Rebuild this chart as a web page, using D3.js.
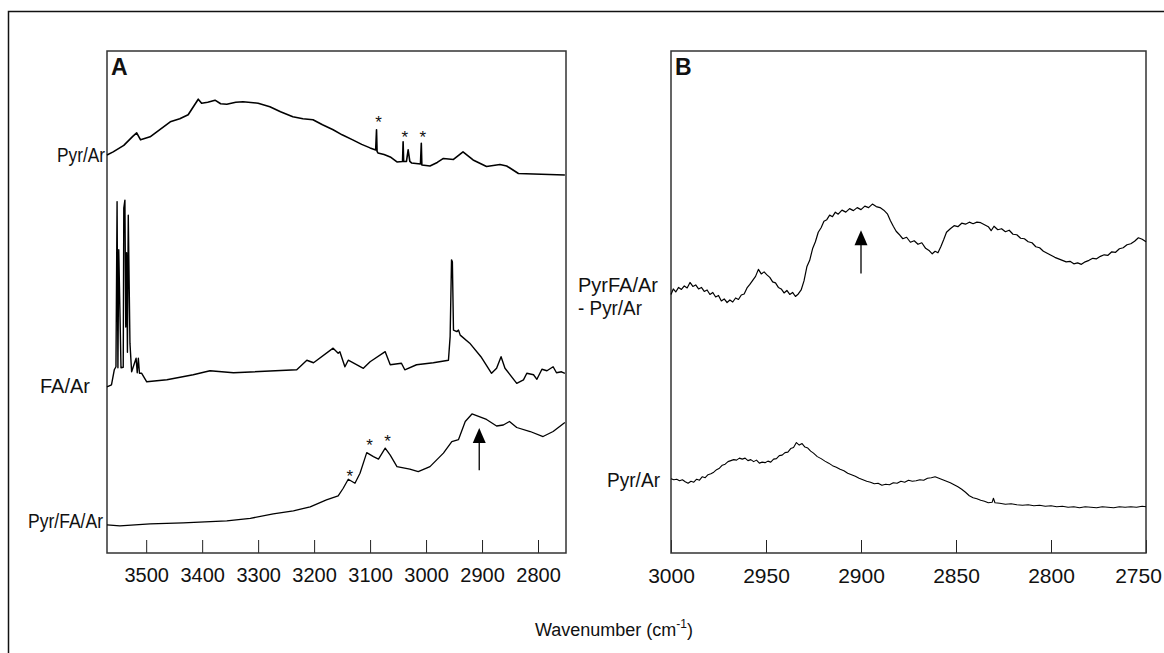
<!DOCTYPE html>
<html>
<head>
<meta charset="utf-8">
<script src="https://cdn.jsdelivr.net/npm/d3@7"></script>
<style>
  body { margin: 0; background: #fff; }
  text { font-family: "Liberation Sans", Arial, sans-serif; fill: #111; }
</style>
</head>
<body>
<div id="chart"></div>
<script>
// ---- data (wavenumber cm-1, absorbance in arbitrary offset units) ----
const pyrArA = [[3570,79.3],[3559,79.9],[3540,81.2],[3524,83.0],[3517,83.7],[3510,82.3],[3493,82.9],[3475,84.4],[3457,85.9],[3440,86.5],[3425,87.3],[3407,90.4],[3401,89.6],[3390,89.8],[3377,90.2],[3367,89.5],[3356,89.4],[3340,89.8],[3327,89.9],[3300,89.6],[3279,88.9],[3260,87.9],[3238,86.9],[3220,86.5],[3202,86.3],[3185,85.3],[3166,84.3],[3150,83.3],[3131,82.3],[3115,81.4],[3100,80.7],[3090,80.3],[3088.5,84.3],[3087.5,80.0],[3086,79.7],[3075,79.4],[3064,78.9],[3052,77.9],[3042,78.0],[3041,81.9],[3040,78.0],[3035,78.0],[3032,80.3],[3029,78.0],[3026,77.7],[3010,77.5],[3008.5,81.6],[3007.5,77.3],[2993,77.1],[2980,77.8],[2969,78.6],[2951,78.4],[2934,79.9],[2916,78.3],[2892,77.0],[2868,77.4],[2856,77.1],[2835,75.6],[2808,75.5],[2780,75.4],[2752,75.3]];

const faArA = [[3570,33.1],[3562,33.5],[3557,36.5],[3554,37.1],[3552,70.0],[3550.5,36.9],[3549,60.4],[3545,36.9],[3541,37.0],[3540,68.7],[3538,70.3],[3536.5,45.0],[3535,59.8],[3533.5,40.0],[3532,67.3],[3529,41.8],[3526,36.1],[3518,38.8],[3516,35.9],[3514,38.8],[3512,35.8],[3508,35.8],[3499,34.1],[3463,34.5],[3416,35.5],[3386,36.3],[3344,35.9],[3231,36.5],[3213,38.4],[3201,37.9],[3166,40.8],[3157,39.8],[3154,40.1],[3145,37.1],[3139,38.4],[3112,36.8],[3100,38.1],[3073,40.1],[3064,37.5],[3044,37.8],[3038,36.5],[3017,37.5],[2987,37.9],[2960,38.4],[2957,43.1],[2954.5,58.4],[2953,58.0],[2951,44.4],[2945,44.1],[2942,44.4],[2939,43.4],[2922,41.8],[2902,39.1],[2883,35.8],[2874,36.8],[2866,39.1],[2859,36.8],[2838,33.8],[2826,34.5],[2820,35.8],[2808,35.5],[2802,34.6],[2793,36.6],[2784,36.3],[2773,37.1],[2767,35.9],[2758,36.1],[2752,35.8]];

const pyrFaArA = [[3570,5.6],[3547,5.4],[3493,5.8],[3434,6.0],[3356,6.4],[3314,6.9],[3273,7.8],[3237,8.4],[3207,9.2],[3178,10.6],[3157,11.4],[3148,12.9],[3139,14.7],[3127,13.9],[3118,15.9],[3106,20.0],[3094,19.2],[3085,18.7],[3073,20.9],[3064,19.5],[3052,17.2],[3029,16.7],[3014,16.2],[2993,17.2],[2969,19.9],[2954,22.2],[2942,22.6],[2930,26.2],[2918,27.7],[2892,26.6],[2874,25.3],[2862,25.5],[2851,26.2],[2838,25.0],[2814,24.2],[2791,23.2],[2773,24.2],[2752,26.0]];

const diffB = [[3000,51.5],[2998.8,52.6],[2997.5,52.0],[2996,52.9],[2994.5,52.5],[2993,53.2],[2991.5,52.8],[2990,53.9],[2988.5,53.1],[2987,53.4],[2985.5,52.6],[2984,52.9],[2982.5,52.1],[2981,52.4],[2979.5,51.5],[2978,51.9],[2976.5,51.0],[2975,51.3],[2973.5,50.2],[2972,50.6],[2970.5,49.9],[2969,50.4],[2967.5,50.0],[2966,50.8],[2964.5,50.5],[2963,51.4],[2961.5,51.6],[2960,52.8],[2958.5,53.5],[2957,54.3],[2955.5,55.1],[2954,56.5],[2952.5,55.6],[2951,56.0],[2949.5,55.4],[2948,54.9],[2946.5,54.0],[2945,53.8],[2943.5,52.9],[2942,52.6],[2940.5,51.8],[2939,52.3],[2937.5,51.5],[2936,51.9],[2934.5,51.1],[2933,51.6],[2931.5,52.4],[2930,54.2],[2928.5,57.0],[2927,58.3],[2925.5,60.6],[2924,62.0],[2922.5,63.9],[2921,64.8],[2919.5,66.1],[2918,66.4],[2916.5,67.3],[2915,67.0],[2913.5,67.9],[2912,67.5],[2910,68.3],[2908,67.9],[2906,68.6],[2904,68.2],[2902,68.8],[2900,68.4],[2898,69.1],[2896,68.8],[2894,69.5],[2892,69.0],[2890,68.8],[2888,68.3],[2886,67.5],[2884.5,66.2],[2883,65.1],[2881.5,64.1],[2880,63.5],[2878,62.6],[2876,62.9],[2874,61.9],[2872,62.2],[2870,61.5],[2868,61.8],[2866,60.7],[2864,60.2],[2862.5,59.6],[2861,60.1],[2859.5,59.8],[2858,61.0],[2856.5,62.4],[2855,63.9],[2853,64.6],[2851,65.2],[2849,65.0],[2847,65.7],[2845,65.5],[2843,65.9],[2841,65.6],[2839,65.9],[2837,65.8],[2835,65.4],[2833,65.0],[2831.5,64.2],[2830,65.1],[2828,64.4],[2826,64.6],[2824,64.0],[2822,64.3],[2820,63.5],[2818,63.4],[2816,62.7],[2814,62.6],[2812,62.0],[2810,61.8],[2808,61.0],[2806,60.8],[2804,60.1],[2802,59.7],[2800,59.3],[2798,58.9],[2796,58.6],[2794,58.3],[2792,58.0],[2790,58.1],[2788,57.6],[2786,57.8],[2784,57.5],[2782,58.0],[2780,58.3],[2778,58.7],[2776,58.6],[2774,59.1],[2772,59.4],[2770,59.3],[2768,60.0],[2766,59.9],[2764,60.6],[2762,60.8],[2760,61.4],[2758,61.6],[2756,62.1],[2754,62.8],[2752,62.5],[2750,62.0]];

const pyrArB = [[3000,14.8],[2998.5,14.6],[2997,14.7],[2995.5,14.4],[2994,14.6],[2992.5,14.2],[2991,13.9],[2989.5,14.3],[2988,14.1],[2986.5,14.7],[2985,14.5],[2983.5,15.2],[2982,15.0],[2980.5,15.6],[2979,15.8],[2977.5,16.1],[2976,16.6],[2974.5,16.9],[2973,17.5],[2971.5,17.7],[2970,18.2],[2968.5,18.4],[2967,18.6],[2965.5,18.5],[2964,18.9],[2962.5,18.7],[2961,18.9],[2959.5,18.4],[2958,18.6],[2956.5,18.2],[2955,18.5],[2953.5,17.9],[2952,18.1],[2950.5,18.0],[2949,18.3],[2947.5,18.1],[2946,18.7],[2944.5,18.8],[2943,19.4],[2941.5,19.5],[2940,20.0],[2938.5,20.1],[2937,20.8],[2935.5,21.0],[2934,22.0],[2932.5,21.5],[2931,21.8],[2929.5,21.1],[2928,20.9],[2926.5,20.3],[2925,19.9],[2923,19.2],[2921,18.8],[2919,18.3],[2917,17.9],[2915,17.4],[2913,17.1],[2911,16.7],[2909,16.4],[2907,15.9],[2905,15.6],[2903,15.3],[2901,14.9],[2899,14.6],[2897,14.3],[2895,14.1],[2893,13.8],[2891,13.9],[2889,13.5],[2887,13.7],[2885,13.6],[2883,14.0],[2881,13.9],[2879,14.3],[2877,14.1],[2875,14.5],[2873,14.3],[2871,14.4],[2869,14.6],[2867,14.5],[2865,14.9],[2863,15.0],[2861,15.2],[2859,14.9],[2857,14.6],[2855,14.3],[2853,14.0],[2851,13.6],[2849,13.2],[2847,12.7],[2845,12.1],[2843,11.4],[2841,11.0],[2839,10.8],[2837,10.5],[2835,10.3],[2833,10.0],[2831,10.1],[2830.3,10.9],[2829.5,10.0],[2827,9.9],[2824,9.7],[2821,9.8],[2818,9.6],[2815,9.5],[2812,9.6],[2809,9.4],[2806,9.5],[2803,9.3],[2800,9.4],[2797,9.2],[2794,9.3],[2791,9.1],[2788,9.2],[2785,9.0],[2782,9.2],[2779,9.1],[2776,9.0],[2773,9.2],[2770,9.1],[2767,9.0],[2764,9.2],[2761,9.1],[2758,9.2],[2755,9.1],[2752,9.3],[2750,9.2]];

const ticksA = [3500, 3400, 3300, 3200, 3100, 3000, 2900, 2800];
const ticksB = [3000, 2950, 2900, 2850, 2800, 2750];
const starsA = [[3085,86.6],[3038,83.6],[3006,83.6],[3136,16.2],[3101,22.4],[3069,23.2]];
const arrowA = [2905, 24.9, 16.5];   // wavenumber, tip, tail
const arrowB = [2900, 64.3, 55.7];

// ---- layout ----
const W = 1164, H = 653;
const yTop = 51, yBot = 553;

const svg = d3.select("#chart").append("svg")
  .attr("width", W).attr("height", H);

svg.append("rect").attr("x", 8.5).attr("y", 11.5).attr("width", 1170).attr("height", 660)
  .attr("fill", "none").attr("stroke", "#111").attr("stroke-width", 1.5);

const xA = d3.scaleLinear().domain([3570, 2750]).range([107, 566]);
const xB = d3.scaleLinear().domain([3000, 2750]).range([671, 1146]);
const y = d3.scaleLinear().domain([0, 100]).range([yBot, yTop]);

function panel(x, ticks, fs, letter) {
  const g = svg.append("g");
  const ax = g.append("g").attr("transform", "translate(0," + yBot + ")")
    .call(d3.axisBottom(x).tickValues(ticks).tickSize(-13).tickPadding(15).tickFormat(d3.format("d")));
  ax.select(".domain").remove();
  ax.selectAll("line").attr("stroke", "#222");
  ax.selectAll("text").attr("font-size", fs).attr("font-family", "Liberation Sans, Arial, sans-serif").attr("fill", "#111");
  const [r0, r1] = x.range();
  g.append("rect").attr("x", r0).attr("y", yTop).attr("width", r1 - r0).attr("height", yBot - yTop)
    .attr("fill", "none").attr("stroke", "#333").attr("stroke-width", 1.5);
  g.append("text").attr("x", r0 + 4).attr("y", yTop + 24).attr("font-size", 23)
    .attr("font-weight", "bold").text(letter);
  return { g, ax };
}

const pA = panel(xA, ticksA, 20, "A");
const pB = panel(xB, ticksB, 21, "B");
const gA = pA.g, gB = pB.g;
// last label of B sits on the page edge; nudge it in so it stays readable
pB.ax.selectAll(".tick text").filter(d => d === 2750).attr("dx", -8);

function trace(g, x, data, w) {
  g.append("path").datum(data)
    .attr("fill", "none").attr("stroke", "#000").attr("stroke-width", w)
    .attr("stroke-linejoin", "round")
    .attr("d", d3.line().x(d => x(d[0])).y(d => y(d[1])));
}
trace(gA, xA, pyrArA, 1.6);
trace(gA, xA, faArA, 1.4);
trace(gA, xA, pyrFaArA, 1.3);
trace(gB, xB, diffB, 1.2);
trace(gB, xB, pyrArB, 1.1);

gA.selectAll(".star").data(starsA).enter().append("text")
  .attr("class", "star")
  .attr("x", d => xA(d[0])).attr("y", d => y(d[1]) + 10)
  .attr("text-anchor", "middle").attr("font-size", 17).text("*");

function arrow(g, x, a) {
  const ax = x(a[0]), tip = y(a[1]), tail = y(a[2]);
  g.append("line").attr("x1", ax).attr("x2", ax).attr("y1", tip + 12).attr("y2", tail)
    .attr("stroke", "#000").attr("stroke-width", 1.3);
  g.append("path").attr("d", d3.line()([[ax, tip], [ax - 6.5, tip + 15], [ax + 6.5, tip + 15]]) + "Z")
    .attr("fill", "#000");
}
arrow(gA, xA, arrowA);
arrow(gB, xB, arrowB);

// trace labels
const labels = [
  { t: "Pyr/Ar", x: 57, y: 162, len: 48 },
  { t: "FA/Ar", x: 40, y: 393, len: 50 },
  { t: "Pyr/FA/Ar", x: 28, y: 528, len: 75 },
  { t: "PyrFA/Ar", x: 578, y: 292, len: 80 },
  { t: "- Pyr/Ar", x: 578, y: 315, len: 64 },
  { t: "Pyr/Ar", x: 607, y: 487, len: 53 }
];
svg.selectAll(".lab").data(labels).enter().append("text")
  .attr("class", "lab")
  .attr("x", d => d.x).attr("y", d => d.y)
  .attr("font-size", 20)
  .attr("textLength", d => d.len).attr("lengthAdjust", "spacingAndGlyphs")
  .text(d => d.t);

// x axis title
const xt = svg.append("text").attr("x", 614).attr("y", 636)
  .attr("text-anchor", "middle").attr("font-size", 18);
xt.append("tspan").text("Wavenumber (cm");
xt.append("tspan").attr("font-size", 12).attr("dy", -8).text("-1");
xt.append("tspan").attr("dy", 8).text(")");
</script>
</body>
</html>
